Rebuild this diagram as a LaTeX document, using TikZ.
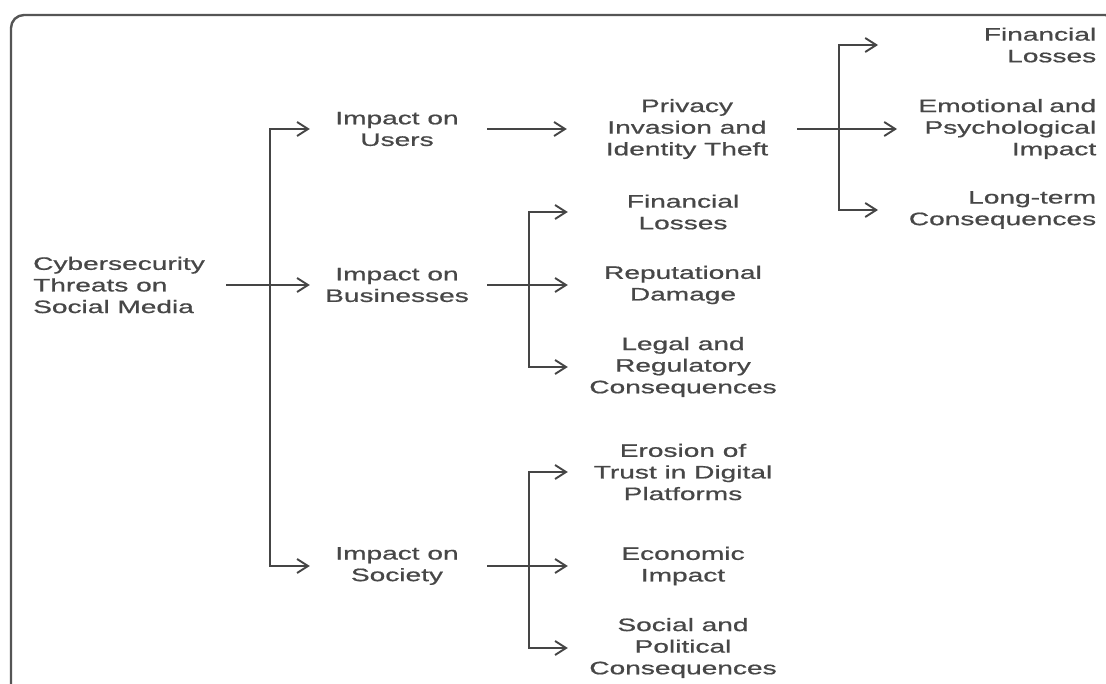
\documentclass[tikz,border=0pt]{standalone}
\usepackage{fontspec}
\setmainfont{Liberation Sans}[FakeStretch=1.56, FakeBold=0.8]
\usetikzlibrary{arrows.meta}
\definecolor{ink}{HTML}{474747}
\definecolor{wire}{HTML}{454545}
\definecolor{rim}{HTML}{555555}
\tikzset{
  lbl/.style={font=\fontsize{18pt}{21.6pt}\selectfont, text=ink, inner sep=0pt},
  mid/.style={lbl, align=center, minimum width=174pt},
  leafbox/.style={lbl, align=center, minimum width=230pt},
  farleaf/.style={lbl, anchor=west, align=right},
  wireline/.style={draw=wire, line width=1.9pt},
  arr/.style={wireline, -{Straight Barb[length=11pt,width=14pt,line width=1.9pt]}}
}
\begin{document}
\begin{tikzpicture}[x=1pt,y=-1pt]
\useasboundingbox (0,0) rectangle (1106,684);
\clip (0,0) rectangle (1106,684);
\fill[white] (0,0) rectangle (1106,684);

% outer frame, running off the right and bottom edges
\draw[rim, line width=2.4pt, rounded corners=13pt] (11,720) -- (11,15) -- (1118,15) -- (1118,720);

% root
\node[lbl, anchor=west, align=left, inner xsep=21pt] (root) at (12,285)
  {Cybersecurity\\Threats on\\Social Media};

% second level
\node[mid] (users) at (397,129) {Impact on\\Users};
\node[mid] (biz)   at (397,285) {Impact on\\Businesses};
\node[mid] (soc)   at (397,566) {Impact on\\Society};

% third level
\node[lbl, align=center, minimum width=240pt] (priv) at (687,129) {Privacy\\Invasion and\\Identity Theft};

\node[leafbox] (bfin)  at (683,212) {Financial\\Losses};
\node[leafbox] (brep)  at (683,285) {Reputational\\Damage};
\node[leafbox] (blegal) at (683,367) {Legal and\\Regulatory\\Consequences};

\node[leafbox] (strust) at (683,472) {Erosion of\\Trust in Digital\\Platforms};
\node[leafbox] (secon)  at (683,566) {Economic\\Impact};
\node[leafbox] (spol)   at (683,648) {Social and\\Political\\Consequences};

% fourth level
\node[farleaf, text width=218pt] (ufin)  at (878,45)  {Financial\\Losses};
\node[farleaf, text width=199pt] (uemo)  at (897,129) {Emotional and\\Psychological\\Impact};
\node[farleaf, text width=218pt] (ulong) at (878,210) {Long-term\\Consequences};

% junction points
\coordinate (j0) at (270,285);
\coordinate (j1) at (839,129);
\coordinate (j2) at (529,285);
\coordinate (j3) at (529,566);

% connectors
\draw[wireline] (root.east) -- (j0);
\draw[arr] (j0) -- (biz.west);
\draw[arr] (j0) |- (users.west);
\draw[arr] (j0) |- (soc.west);

\draw[arr] ([xshift=3pt]users.east) -- (priv.west);

\draw[wireline] ([xshift=-10pt]priv.east) -- (j1);
\draw[arr] (j1) -- (uemo.west);
\draw[arr] (j1) |- (ufin.west);
\draw[arr] (j1) |- (ulong.west);

\draw[wireline] ([xshift=3pt]biz.east) -- (j2);
\draw[arr] (j2) -- (brep.west);
\draw[arr] (j2) |- (bfin.west);
\draw[arr] (j2) |- (blegal.west);

\draw[wireline] ([xshift=3pt]soc.east) -- (j3);
\draw[arr] (j3) -- (secon.west);
\draw[arr] (j3) |- (strust.west);
\draw[arr] (j3) |- (spol.west);
\end{tikzpicture}
\end{document}
